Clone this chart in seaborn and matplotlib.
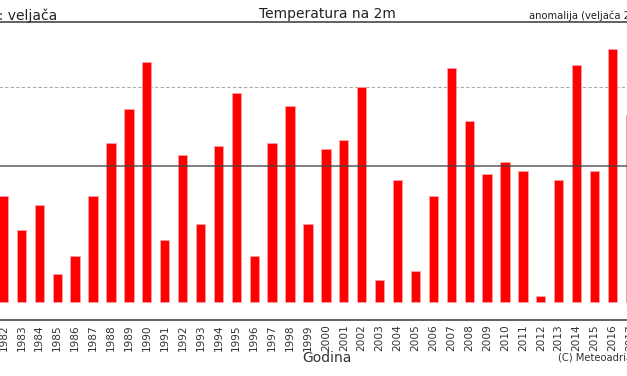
import numpy as np
import matplotlib
matplotlib.use("Agg")
import matplotlib.pyplot as plt
import seaborn as sns

# February mean temperature at 2 m (degC)
years = list(range(1982, 2018))
temps = [3.12, 2.12, 2.85, 0.82, 1.35, 3.12, 4.68, 5.68, 7.06, 1.82,
         4.32, 2.29, 4.59, 6.15, 1.35, 4.68, 5.76, 2.29, 4.50, 4.76,
         6.32, 0.65, 3.59, 0.91, 3.12, 6.88, 5.32, 3.76, 4.12, 3.85,
         0.18, 3.59, 6.97, 3.85, 7.44, 5.50]
mean_line = 4.0
upper_line = 6.32

sns.set_style("white")
plt.rcParams['font.family'] = ['DejaVu Sans']

W, H = 627, 376
fig = plt.figure(figsize=(W / 100, H / 100), dpi=100)
# the original chart is wider than this view, so the axes run past both edges
left_px, right_px = -40, 670
ax = fig.add_axes([left_px / W, 56 / H, (right_px - left_px) / W, 298 / H])

sns.barplot(x=[str(y) for y in years], y=temps, color='#ff0000', saturation=1,
            width=0.52, edgecolor='#ffa0a0', linewidth=0.6, ax=ax)

ax.axhline(mean_line, color='#444444', lw=1.2, alpha=0.8, zorder=3)
ax.axhline(upper_line, color='#aaaaaa', lw=0.8, ls=(0, (3, 2)), zorder=0)

step, x0 = 17.91, 3.5
ax.set_xlim((left_px - x0) / step, (right_px - x0) / step)
ax.set_ylim(-0.53, 8.24)

for s in ['left', 'right']:
    ax.spines[s].set_visible(False)
for s in ['top', 'bottom']:
    ax.spines[s].set_color('#555555')
    ax.spines[s].set_linewidth(1.3)

ax.set_yticks([])
ax.tick_params(axis='x', length=0, pad=3, labelsize=7.6, labelcolor='#333333',
               labelrotation=90)
ax.set_xlabel('')

fig.text(57 / W, 1 - 16 / H, 'Mjesec: veljača', ha='right', va='center',
         fontsize=10, color='#222222')
fig.text(327 / W, 1 - 14 / H, 'Temperatura na 2m', ha='center', va='center',
         fontsize=10, color='#222222')
fig.text(529 / W, 1 - 16 / H, 'anomalija (veljača 2018)', ha='left', va='center',
         fontsize=7.2, color='#222222')
fig.text(327 / W, 1 - 358 / H, 'Godina', ha='center', va='center',
         fontsize=10, color='#333333')
fig.text(558 / W, 1 - 357 / H, '(C) Meteoadriatic', ha='left', va='center',
         fontsize=7.2, color='#333333')

fig.savefig('out.png', dpi=100)
